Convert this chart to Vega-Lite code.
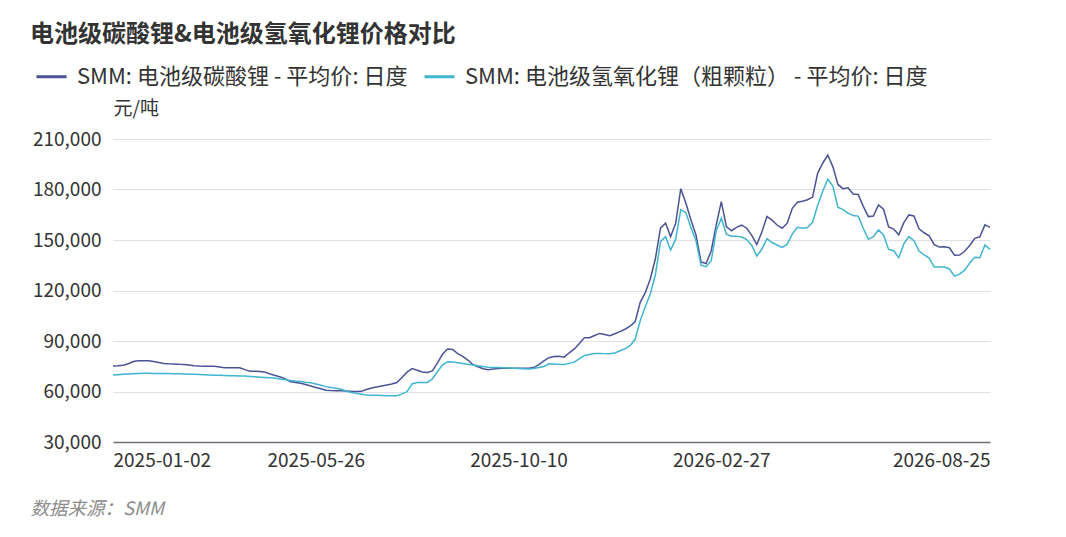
{
  "$schema": "https://vega.github.io/schema/vega-lite/v6.json",
  "width": 877,
  "height": 303,
  "autosize": {"type": "none"},
  "padding": {"left": 113, "top": 139, "right": 76, "bottom": 95},
  "background": "white",
  "title": {
    "text": "电池级碳酸锂&电池级氢氧化锂价格对比",
    "anchor": "start",
    "frame": "group",
    "dx": -83,
    "dy": -9,
    "fontSize": 24,
    "fontWeight": "bold",
    "color": "#333333",
    "font": "Noto Sans CJK SC"
  },
  "config": {
    "view": {"stroke": null},
    "font": "Noto Sans CJK SC"
  },
  "data": {
    "values": [
      {"d": "2025-01-02", "c": 75100, "h": 69800},
      {"d": "2025-01-06", "c": 75300, "h": 70000},
      {"d": "2025-01-09", "c": 75600, "h": 70200},
      {"d": "2025-01-13", "c": 76500, "h": 70400},
      {"d": "2025-01-16", "c": 77800, "h": 70600},
      {"d": "2025-01-20", "c": 78300, "h": 70700},
      {"d": "2025-01-23", "c": 78300, "h": 70800},
      {"d": "2025-01-27", "c": 78300, "h": 70800},
      {"d": "2025-01-30", "c": 77800, "h": 70750},
      {"d": "2025-02-04", "c": 77200, "h": 70700},
      {"d": "2025-02-07", "c": 76700, "h": 70700},
      {"d": "2025-02-11", "c": 76500, "h": 70650},
      {"d": "2025-02-14", "c": 76400, "h": 70600},
      {"d": "2025-02-18", "c": 76200, "h": 70550},
      {"d": "2025-02-21", "c": 76100, "h": 70400},
      {"d": "2025-02-25", "c": 75700, "h": 70300},
      {"d": "2025-02-28", "c": 75300, "h": 70200},
      {"d": "2025-03-04", "c": 75100, "h": 70100},
      {"d": "2025-03-07", "c": 75000, "h": 69950},
      {"d": "2025-03-11", "c": 75000, "h": 69800},
      {"d": "2025-03-14", "c": 74950, "h": 69700},
      {"d": "2025-03-18", "c": 74600, "h": 69600},
      {"d": "2025-03-21", "c": 74150, "h": 69500},
      {"d": "2025-03-25", "c": 74150, "h": 69400},
      {"d": "2025-03-28", "c": 74150, "h": 69300},
      {"d": "2025-04-01", "c": 74150, "h": 69200},
      {"d": "2025-04-03", "c": 73000, "h": 69150},
      {"d": "2025-04-08", "c": 72100, "h": 68900},
      {"d": "2025-04-11", "c": 72000, "h": 68700},
      {"d": "2025-04-15", "c": 71900, "h": 68500},
      {"d": "2025-04-18", "c": 71500, "h": 68300},
      {"d": "2025-04-22", "c": 70400, "h": 68100},
      {"d": "2025-04-25", "c": 69500, "h": 67900},
      {"d": "2025-04-29", "c": 68600, "h": 67400},
      {"d": "2025-05-06", "c": 67500, "h": 67000},
      {"d": "2025-05-09", "c": 65800, "h": 66600},
      {"d": "2025-05-13", "c": 65300, "h": 66200},
      {"d": "2025-05-16", "c": 64900, "h": 65900},
      {"d": "2025-05-20", "c": 64100, "h": 65500},
      {"d": "2025-05-23", "c": 63300, "h": 65200},
      {"d": "2025-05-26", "c": 62400, "h": 64500},
      {"d": "2025-05-29", "c": 61600, "h": 63700},
      {"d": "2025-06-03", "c": 60800, "h": 62900},
      {"d": "2025-06-06", "c": 60600, "h": 62400},
      {"d": "2025-06-10", "c": 60500, "h": 61900},
      {"d": "2025-06-13", "c": 60500, "h": 61300},
      {"d": "2025-06-17", "c": 60300, "h": 60300},
      {"d": "2025-06-20", "c": 60100, "h": 59400},
      {"d": "2025-06-24", "c": 60000, "h": 58900},
      {"d": "2025-06-27", "c": 60100, "h": 58400},
      {"d": "2025-07-01", "c": 61200, "h": 57900},
      {"d": "2025-07-04", "c": 62100, "h": 57800},
      {"d": "2025-07-08", "c": 62700, "h": 57700},
      {"d": "2025-07-11", "c": 63300, "h": 57600},
      {"d": "2025-07-15", "c": 63900, "h": 57500},
      {"d": "2025-07-18", "c": 64500, "h": 57500},
      {"d": "2025-07-22", "c": 65300, "h": 57500},
      {"d": "2025-07-25", "c": 68300, "h": 58600},
      {"d": "2025-07-29", "c": 71500, "h": 59900},
      {"d": "2025-08-01", "c": 73600, "h": 64500},
      {"d": "2025-08-05", "c": 72600, "h": 65300},
      {"d": "2025-08-08", "c": 71600, "h": 65350},
      {"d": "2025-08-12", "c": 71300, "h": 65400},
      {"d": "2025-08-15", "c": 72200, "h": 67500},
      {"d": "2025-08-19", "c": 77000, "h": 71700},
      {"d": "2025-08-22", "c": 82100, "h": 75800},
      {"d": "2025-08-26", "c": 85300, "h": 77700},
      {"d": "2025-08-29", "c": 85000, "h": 77500},
      {"d": "2025-09-02", "c": 82500, "h": 77100},
      {"d": "2025-09-05", "c": 80900, "h": 76700},
      {"d": "2025-09-09", "c": 78700, "h": 76200},
      {"d": "2025-09-12", "c": 76000, "h": 75800},
      {"d": "2025-09-16", "c": 74700, "h": 75300},
      {"d": "2025-09-19", "c": 73500, "h": 74900},
      {"d": "2025-09-23", "c": 72900, "h": 74450},
      {"d": "2025-09-26", "c": 73300, "h": 74300},
      {"d": "2025-09-29", "c": 73700, "h": 74200},
      {"d": "2025-09-30", "c": 73750, "h": 74150},
      {"d": "2025-10-08", "c": 73750, "h": 74000},
      {"d": "2025-10-09", "c": 73750, "h": 73800},
      {"d": "2025-10-10", "c": 73750, "h": 73600},
      {"d": "2025-10-14", "c": 73750, "h": 73450},
      {"d": "2025-10-17", "c": 73750, "h": 73350},
      {"d": "2025-10-21", "c": 74200, "h": 73700},
      {"d": "2025-10-24", "c": 76000, "h": 74200},
      {"d": "2025-10-28", "c": 78200, "h": 74900},
      {"d": "2025-10-31", "c": 80100, "h": 76500},
      {"d": "2025-11-04", "c": 80800, "h": 76400},
      {"d": "2025-11-07", "c": 80900, "h": 76200},
      {"d": "2025-11-11", "c": 80400, "h": 76100},
      {"d": "2025-11-14", "c": 83000, "h": 76700},
      {"d": "2025-11-18", "c": 85300, "h": 77500},
      {"d": "2025-11-21", "c": 88500, "h": 79500},
      {"d": "2025-11-25", "c": 92000, "h": 81400},
      {"d": "2025-11-28", "c": 92000, "h": 82000},
      {"d": "2025-12-02", "c": 93300, "h": 82600},
      {"d": "2025-12-05", "c": 94500, "h": 82600},
      {"d": "2025-12-09", "c": 93800, "h": 82500},
      {"d": "2025-12-12", "c": 93200, "h": 82400},
      {"d": "2025-12-16", "c": 94300, "h": 82900},
      {"d": "2025-12-19", "c": 95550, "h": 84200},
      {"d": "2025-12-23", "c": 97000, "h": 85300},
      {"d": "2025-12-26", "c": 98800, "h": 87200},
      {"d": "2025-12-30", "c": 101500, "h": 91000},
      {"d": "2026-01-02", "c": 113000, "h": 102000},
      {"d": "2026-01-06", "c": 118700, "h": 110400},
      {"d": "2026-01-09", "c": 127000, "h": 118000},
      {"d": "2026-01-13", "c": 139000, "h": 129500},
      {"d": "2026-01-16", "c": 157000, "h": 149000},
      {"d": "2026-01-20", "c": 160000, "h": 152000},
      {"d": "2026-01-23", "c": 152000, "h": 144050},
      {"d": "2026-01-27", "c": 160000, "h": 150500},
      {"d": "2026-01-30", "c": 180500, "h": 168000},
      {"d": "2026-02-03", "c": 172000, "h": 166300},
      {"d": "2026-02-06", "c": 162000, "h": 157500},
      {"d": "2026-02-10", "c": 153000, "h": 149500},
      {"d": "2026-02-13", "c": 137000, "h": 135000},
      {"d": "2026-02-17", "c": 136000, "h": 134100},
      {"d": "2026-02-20", "c": 143500, "h": 137700},
      {"d": "2026-02-24", "c": 159000, "h": 155500},
      {"d": "2026-02-27", "c": 172800, "h": 162900},
      {"d": "2026-03-03", "c": 158000, "h": 153500},
      {"d": "2026-03-06", "c": 155500, "h": 152300},
      {"d": "2026-03-10", "c": 157500, "h": 152300},
      {"d": "2026-03-13", "c": 158800, "h": 151800},
      {"d": "2026-03-17", "c": 157000, "h": 150300},
      {"d": "2026-03-20", "c": 152800, "h": 146800},
      {"d": "2026-03-24", "c": 147300, "h": 140500},
      {"d": "2026-03-27", "c": 154800, "h": 144500},
      {"d": "2026-03-31", "c": 164000, "h": 150800},
      {"d": "2026-04-03", "c": 161800, "h": 148500},
      {"d": "2026-04-07", "c": 158900, "h": 147000},
      {"d": "2026-04-10", "c": 157000, "h": 145600},
      {"d": "2026-04-14", "c": 160000, "h": 147500},
      {"d": "2026-04-17", "c": 168800, "h": 153500},
      {"d": "2026-04-21", "c": 172400, "h": 157500},
      {"d": "2026-04-24", "c": 173000, "h": 157000},
      {"d": "2026-04-28", "c": 173900, "h": 157400},
      {"d": "2026-04-30", "c": 175500, "h": 160500},
      {"d": "2026-05-05", "c": 189600, "h": 170500},
      {"d": "2026-05-08", "c": 195600, "h": 179000},
      {"d": "2026-05-12", "c": 200500, "h": 186050},
      {"d": "2026-05-15", "c": 193600, "h": 182000},
      {"d": "2026-05-19", "c": 183000, "h": 169500},
      {"d": "2026-05-22", "c": 180500, "h": 168000},
      {"d": "2026-05-26", "c": 181000, "h": 166000},
      {"d": "2026-05-29", "c": 177300, "h": 164500},
      {"d": "2026-06-02", "c": 177000, "h": 164200},
      {"d": "2026-06-05", "c": 170000, "h": 157000},
      {"d": "2026-06-09", "c": 163900, "h": 150400},
      {"d": "2026-06-12", "c": 164250, "h": 151980},
      {"d": "2026-06-16", "c": 170800, "h": 156000},
      {"d": "2026-06-19", "c": 168300, "h": 153000},
      {"d": "2026-06-23", "c": 157800, "h": 144400},
      {"d": "2026-06-26", "c": 156500, "h": 143600},
      {"d": "2026-06-30", "c": 153100, "h": 139500},
      {"d": "2026-07-03", "c": 160300, "h": 147700},
      {"d": "2026-07-07", "c": 164900, "h": 152000},
      {"d": "2026-07-10", "c": 164300, "h": 149600},
      {"d": "2026-07-14", "c": 156600, "h": 143400},
      {"d": "2026-07-17", "c": 154300, "h": 141100},
      {"d": "2026-07-21", "c": 152500, "h": 139300},
      {"d": "2026-07-24", "c": 147200, "h": 134000},
      {"d": "2026-07-28", "c": 145800, "h": 134000},
      {"d": "2026-07-31", "c": 146050, "h": 133900},
      {"d": "2026-08-04", "c": 145400, "h": 132800},
      {"d": "2026-08-07", "c": 140900, "h": 128500},
      {"d": "2026-08-11", "c": 141100, "h": 129700},
      {"d": "2026-08-13", "c": 143300, "h": 132100},
      {"d": "2026-08-17", "c": 146700, "h": 136300},
      {"d": "2026-08-19", "c": 151000, "h": 139800},
      {"d": "2026-08-20", "c": 151900, "h": 139500},
      {"d": "2026-08-21", "c": 159000, "h": 147000},
      {"d": "2026-08-25", "c": 157500, "h": 144450}
    ]
  },
  "transform": [
    {"fold": ["c", "h"], "as": ["series", "price"]}
  ],
  "mark": {"type": "line", "strokeWidth": 1.5, "interpolate": "linear"},
  "encoding": {
    "x": {
      "field": "d",
      "type": "ordinal",
      "scale": {"type": "point", "padding": 0},
      "axis": {
        "values": ["2025-01-02", "2025-05-26", "2025-10-10", "2026-02-27", "2026-08-25"],
        "labelAngle": 0,
        "labelFontSize": 19,
        "labelColor": "#333333",
        "labelPadding": 9,
        "labelFlush": true,
        "labelOverlap": false,
        "ticks": false,
        "grid": false,
        "domainColor": "#6e7079",
        "domainWidth": 1.5,
        "title": "数据来源：SMM",
        "titleX": -83,
        "titleY": 66,
        "titleAlign": "left",
        "titleAnchor": "start",
        "titleBaseline": "middle",
        "titleFontSize": 18.5,
        "titleFontStyle": "italic",
        "titleFontWeight": "normal",
        "titleColor": "#8c8c8c"
      }
    },
    "y": {
      "field": "price",
      "type": "quantitative",
      "scale": {"domain": [30000, 210000], "nice": false, "zero": false},
      "axis": {
        "values": [30000, 60000, 90000, 120000, 150000, 180000, 210000],
        "format": ",d",
        "labelFontSize": 19,
        "labelColor": "#333333",
        "labelPadding": 12,
        "ticks": false,
        "domain": false,
        "grid": true,
        "gridColor": "#e0e0e6",
        "gridWidth": 1,
        "title": "元/吨",
        "titleAngle": 0,
        "titleX": 0,
        "titleY": -31,
        "titleAlign": "left",
        "titleBaseline": "middle",
        "titleFontSize": 19,
        "titleFontWeight": "normal",
        "titleColor": "#333333"
      }
    },
    "color": {
      "field": "series",
      "type": "nominal",
      "scale": {"domain": ["c", "h"], "range": ["#4b5394", "#3fb5cf"]},
      "legend": {
        "orient": "none",
        "direction": "horizontal",
        "legendX": -78,
        "legendY": -79,
        "title": null,
        "symbolType": "stroke",
        "symbolSize": 900,
        "symbolStrokeWidth": 3,
        "labelFontSize": 22,
        "labelColor": "#333333",
        "labelOffset": 9,
        "labelLimit": 600,
        "columnPadding": 10,
        "labelExpr": "datum.value == 'c' ? 'SMM: 电池级碳酸锂 - 平均价: 日度' : 'SMM: 电池级氢氧化锂（粗颗粒） - 平均价: 日度'"
      }
    }
  }
}
